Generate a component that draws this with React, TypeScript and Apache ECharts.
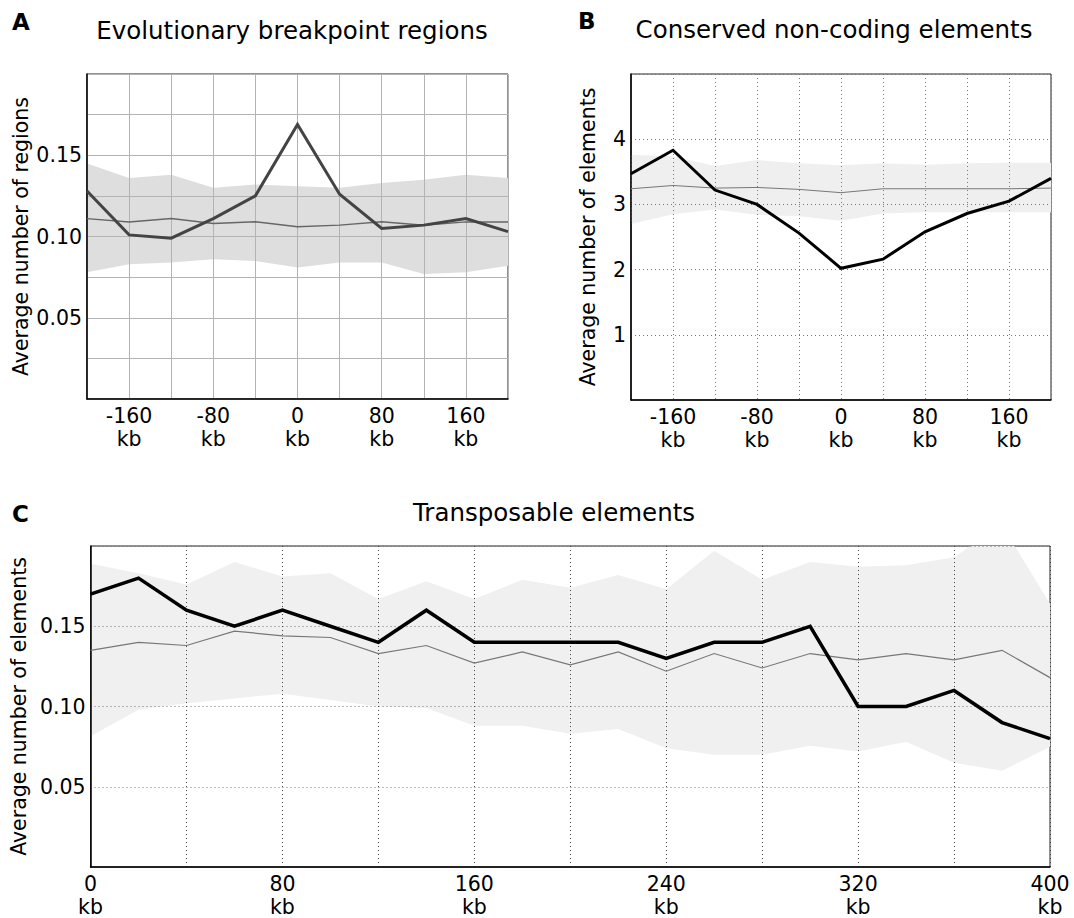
import React, { useEffect, useRef } from "react";
import * as echarts from "echarts";

const FONT = "DejaVu Sans";

// Panels A and B: positions in kb
const abPositions = [-200, -160, -120, -80, -40, 0, 40, 80, 120, 160, 200];

// Panel A: Evolutionary breakpoint regions
const aObserved = [0.128, 0.101, 0.099, 0.111, 0.125, 0.169, 0.126, 0.105, 0.107, 0.111, 0.103];
const aMean = [0.111, 0.109, 0.111, 0.108, 0.109, 0.106, 0.107, 0.109, 0.107, 0.109, 0.109];
const aUpper = [0.145, 0.136, 0.138, 0.130, 0.132, 0.131, 0.130, 0.133, 0.135, 0.138, 0.136];
const aLower = [0.078, 0.083, 0.084, 0.086, 0.085, 0.081, 0.084, 0.084, 0.077, 0.078, 0.082];

// Panel B: Conserved non-coding elements
const bObserved = [3.47, 3.83, 3.22, 3.0, 2.56, 2.02, 2.16, 2.58, 2.86, 3.05, 3.4];
const bMean = [3.24, 3.29, 3.25, 3.26, 3.23, 3.18, 3.24, 3.24, 3.24, 3.24, 3.25];
const bUpper = [3.76, 3.74, 3.59, 3.68, 3.63, 3.6, 3.63, 3.61, 3.63, 3.64, 3.64];
const bLower = [2.7, 2.85, 2.92, 2.84, 2.82, 2.75, 2.86, 2.88, 2.88, 2.88, 2.88];

// Panel C: Transposable elements
const cPositions = [0, 20, 40, 60, 80, 100, 120, 140, 160, 180, 200, 220, 240, 260, 280, 300, 320, 340, 360, 380, 400];
const cObserved = [0.17, 0.18, 0.16, 0.15, 0.16, 0.15, 0.14, 0.16, 0.14, 0.14, 0.14, 0.14, 0.13, 0.14, 0.14, 0.15, 0.1, 0.1, 0.11, 0.09, 0.08];
const cMean = [0.135, 0.14, 0.138, 0.147, 0.144, 0.143, 0.133, 0.138, 0.127, 0.134, 0.126, 0.134, 0.122, 0.133, 0.124, 0.133, 0.129, 0.133, 0.129, 0.135, 0.118];
const cUpper = [0.189, 0.183, 0.176, 0.19, 0.181, 0.183, 0.167, 0.178, 0.167, 0.179, 0.174, 0.182, 0.173, 0.197, 0.179, 0.19, 0.187, 0.188, 0.193, 0.213, 0.164];
const cLower = [0.0815, 0.098, 0.102, 0.105, 0.108, 0.104, 0.1, 0.099, 0.088, 0.088, 0.083, 0.086, 0.074, 0.07, 0.07, 0.0755, 0.072, 0.078, 0.065, 0.06, 0.075];

// Axis tick labels
const abTickLabels = [-160, -80, 0, 80, 160];
const cTickLabels = [0, 80, 160, 240, 320, 400];
const aYLabels = ["0.05", "0.10", "0.15"];
const bYLabels = ["1", "2", "3", "4"];
const cYLabels = ["0.05", "0.10", "0.15"];

const pairs = (xs: number[], ys: number[]) => xs.map((x, i) => [x, ys[i]]);

function bandSeries(idx: number, xs: number[], lo: number[], hi: number[], fill: string) {
  return {
    type: "custom",
    xAxisIndex: idx,
    yAxisIndex: idx,
    z: 1,
    clip: true,
    silent: true,
    encode: { x: 0, y: [1, 2] },
    data: xs.map((x, i) => [x, lo[i], hi[i]]),
    renderItem: (params: any, api: any) => {
      if (params.dataIndex !== 0) return null;
      const pts: number[][] = [];
      for (let i = 0; i < xs.length; i++) pts.push(api.coord([xs[i], hi[i]]));
      for (let i = xs.length - 1; i >= 0; i--) pts.push(api.coord([xs[i], lo[i]]));
      const cs = params.coordSys;
      return {
        type: "polygon",
        shape: { points: pts },
        style: { fill, stroke: null },
        clipPath: { type: "rect", shape: { x: cs.x, y: cs.y, width: cs.width, height: cs.height } },
      };
    },
  };
}

function lineSeries(idx: number, data: number[][], color: string, width: number, z: number) {
  return {
    type: "line",
    xAxisIndex: idx,
    yAxisIndex: idx,
    data,
    symbol: "none",
    z,
    silent: true,
    lineStyle: { color, width, join: "miter", cap: "butt" },
  };
}

function xAxisOf(idx: number, min: number, max: number, labels: number[], split: any) {
  return {
    type: "value",
    gridIndex: idx,
    min,
    max,
    interval: 40,
    z: 2,
    axisLine: { show: true, onZero: false, lineStyle: { color: "#000", width: 1.5 } },
    axisTick: { show: false },
    splitLine: { show: true, lineStyle: split },
    axisLabel: {
      fontFamily: FONT,
      fontSize: 20.5,
      color: "#000",
      lineHeight: 23,
      margin: 5,
      formatter: (v: number) => (labels.indexOf(Math.round(v)) >= 0 ? `${Math.round(v)}\nkb` : ""),
    },
  };
}

function yAxisOf(idx: number, min: number, max: number, interval: number, labels: string[], digits: number, name: string, gap: number, split: any) {
  return {
    type: "value",
    gridIndex: idx,
    min,
    max,
    interval,
    z: 2,
    name,
    nameLocation: "middle",
    nameRotate: 90,
    nameGap: gap,
    nameTextStyle: { fontFamily: FONT, fontSize: 20.5, color: "#000" },
    axisLine: { show: true, onZero: false, lineStyle: { color: "#000", width: 1.5 } },
    axisTick: { show: false },
    splitLine: { show: true, lineStyle: split },
    axisLabel: {
      fontFamily: FONT,
      fontSize: 20.5,
      color: "#000",
      margin: 5,
      formatter: (v: number) => {
        const s = v.toFixed(digits);
        return labels.indexOf(s) >= 0 ? s : "";
      },
    },
  };
}

export default function App() {
  const ref = useRef<HTMLDivElement>(null);
  useEffect(() => {
    if (!ref.current) return;
    const chart = echarts.init(ref.current, undefined, { renderer: "svg" });
    const gridBase = { show: true, borderColor: "#222", borderWidth: 1, backgroundColor: "transparent", containLabel: false };
    const solidGrid = { color: "#b3b3b3", width: 1, type: "solid" };
    const dotGrid = { color: "#777", width: 1, type: [1, 3] };
    const dotGridDark = { color: "#444", width: 1, type: [1, 3] };

    const titleText = (x: number, y: number, text: string, bold: boolean, align: string) => ({
      type: "text",
      x,
      y,
      silent: true,
      style: {
        text,
        fill: "#000",
        fontFamily: FONT,
        fontSize: bold ? 23 : 24.5,
        fontWeight: bold ? "bold" : "normal",
        align,
        verticalAlign: "middle",
      },
    });

    chart.setOption({
      animation: false,
      backgroundColor: "#fff",
      textStyle: { fontFamily: FONT },
      grid: [
        { ...gridBase, left: 87, top: 74, width: 421, height: 325 },
        { ...gridBase, left: 631, top: 74, width: 420, height: 326 },
        { ...gridBase, left: 87, top: 546, width: 963, height: 326 },
      ],
      xAxis: [
        xAxisOf(0, -200, 200, abTickLabels, solidGrid),
        xAxisOf(1, -200, 200, abTickLabels, dotGrid),
        xAxisOf(2, 0, 400, cTickLabels, dotGridDark),
      ],
      yAxis: [
        yAxisOf(0, 0, 0.2, 0.025, aYLabels, 2, "Average number of regions", 56, solidGrid),
        yAxisOf(1, 0, 5, 1, bYLabels, 0, "Average number of elements", 33, dotGrid),
        yAxisOf(2, 0, 0.2, 0.05, cYLabels, 2, "Average number of elements", 56, dotGrid),
      ],
      series: [
        bandSeries(0, abPositions, aLower, aUpper, "#dedede"),
        lineSeries(0, pairs(abPositions, aMean), "#666", 1.5, 3),
        lineSeries(0, pairs(abPositions, aObserved), "#444", 3, 4),
        bandSeries(1, abPositions, bLower, bUpper, "#efefef"),
        lineSeries(1, pairs(abPositions, bMean), "#777", 1, 3),
        lineSeries(1, pairs(abPositions, bObserved), "#000", 3, 4),
        bandSeries(2, cPositions, cLower, cUpper, "#f0f0f0"),
        lineSeries(2, pairs(cPositions, cMean), "#777", 1.2, 3),
        lineSeries(2, pairs(cPositions, cObserved), "#000", 3.5, 4),
      ],
      graphic: [
        titleText(12, 22, "A", true, "left"),
        titleText(292, 30, "Evolutionary breakpoint regions", false, "center"),
        titleText(578, 21, "B", true, "left"),
        titleText(834, 29, "Conserved non-coding elements", false, "center"),
        titleText(12, 514, "C", true, "left"),
        titleText(554, 512, "Transposable elements", false, "center"),
      ],
    });
    return () => chart.dispose();
  }, []);
  return <div ref={ref} style={{ position: "fixed", left: 0, top: 0, width: 1074, height: 918 }} />;
}
